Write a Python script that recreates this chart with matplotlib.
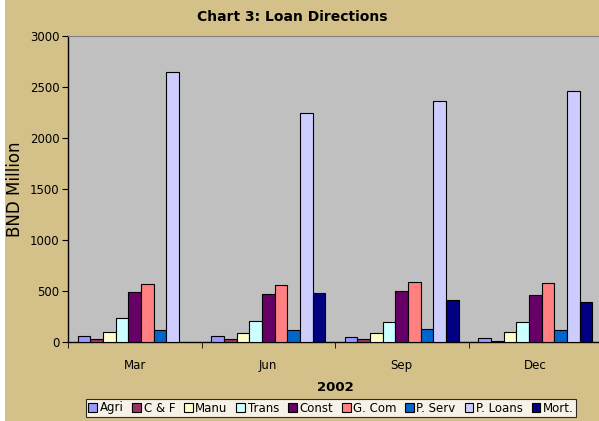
import numpy as np
import matplotlib.pyplot as plt
from matplotlib.patches import Rectangle

quarters = ["Mar", "Jun", "Sep", "Dec"]
sectors = ["Agri", "C & F", "Manu", "Trans", "Const", "G. Com", "P. Serv", "P. Loans", "Mort."]
colors = ["#9999FF", "#993366", "#FFFFCC", "#CCFFFF", "#660066",
          "#FF8080", "#0066CC", "#CCCCFF", "#000080"]

# values per sector, one per quarter (BND million); no mortgage figure for Mar
agri = [58, 56, 46, 36]
c_f = [30, 30, 30, 12]
manu = [95, 88, 88, 95]
trans = [236, 203, 196, 196]
const = [490, 472, 501, 462]
g_com = [573, 560, 587, 580]
p_serv = [121, 121, 128, 115]
p_loans = [2646, 2243, 2364, 2456]
mort = [np.nan, 478, 410, 393]
values = [agri, c_f, manu, trans, const, g_com, p_serv, p_loans, mort]

fig = plt.figure(figsize=(5.99, 4.21), dpi=100)
fig.patch.set_facecolor("#D4C18A")
# thin white strip at the left edge
fig.patches.append(Rectangle((0, 0), 5 / 599, 1, transform=fig.transFigure,
                             facecolor="white", edgecolor="none"))

ax = fig.add_axes([68 / 599, 1 - 342 / 421, 534 / 599, 306 / 421])
ax.set_facecolor("#C0C0C0")

x = np.arange(len(quarters))
w = 0.095
for i, (name, vals, c) in enumerate(zip(sectors, values, colors)):
    off = (i - 4) * w
    ax.bar(x + off, vals, w, color=c, edgecolor="black", linewidth=0.8,
           label=name, zorder=3)

ax.set_xlim(-0.5, 3.5)
ax.set_ylim(0, 3000)
ax.set_yticks(range(0, 3001, 500))
ax.set_xticks(x)
ax.set_xticklabels(quarters, fontsize=8.5)
ax.set_xticks(np.arange(-0.5, 4, 1), minor=True)
ax.tick_params(axis="x", which="major", length=0, pad=12)
ax.tick_params(axis="x", which="minor", length=4, direction="out")
ax.tick_params(axis="y", labelsize=8.5, length=4, direction="out", pad=2)

for s in ["left", "bottom"]:
    ax.spines[s].set_color("black")
    ax.spines[s].set_linewidth(1)
ax.spines["top"].set_color("#808080")
ax.spines["right"].set_visible(False)

ax.set_ylabel("BND Million", fontsize=12, labelpad=4)
ax.set_xlabel("2002", fontsize=9.5, fontweight="bold", labelpad=7)
fig.text(292 / 599, 1 - 17 / 421, "Chart 3: Loan Directions", ha="center", va="center",
         fontsize=10, fontweight="bold")

leg = fig.legend(loc="center", bbox_to_anchor=(331 / 599, 1 - 408 / 421), ncol=9,
                 fontsize=8.5, frameon=True, fancybox=False, handlelength=0.75,
                 handleheight=0.75, handletextpad=0.2, columnspacing=0.75,
                 borderpad=0.25, borderaxespad=0)
leg.get_frame().set_edgecolor("black")
leg.get_frame().set_facecolor("white")
leg.get_frame().set_linewidth(0.8)

fig.savefig("out.png", dpi=100, facecolor=fig.get_facecolor())
